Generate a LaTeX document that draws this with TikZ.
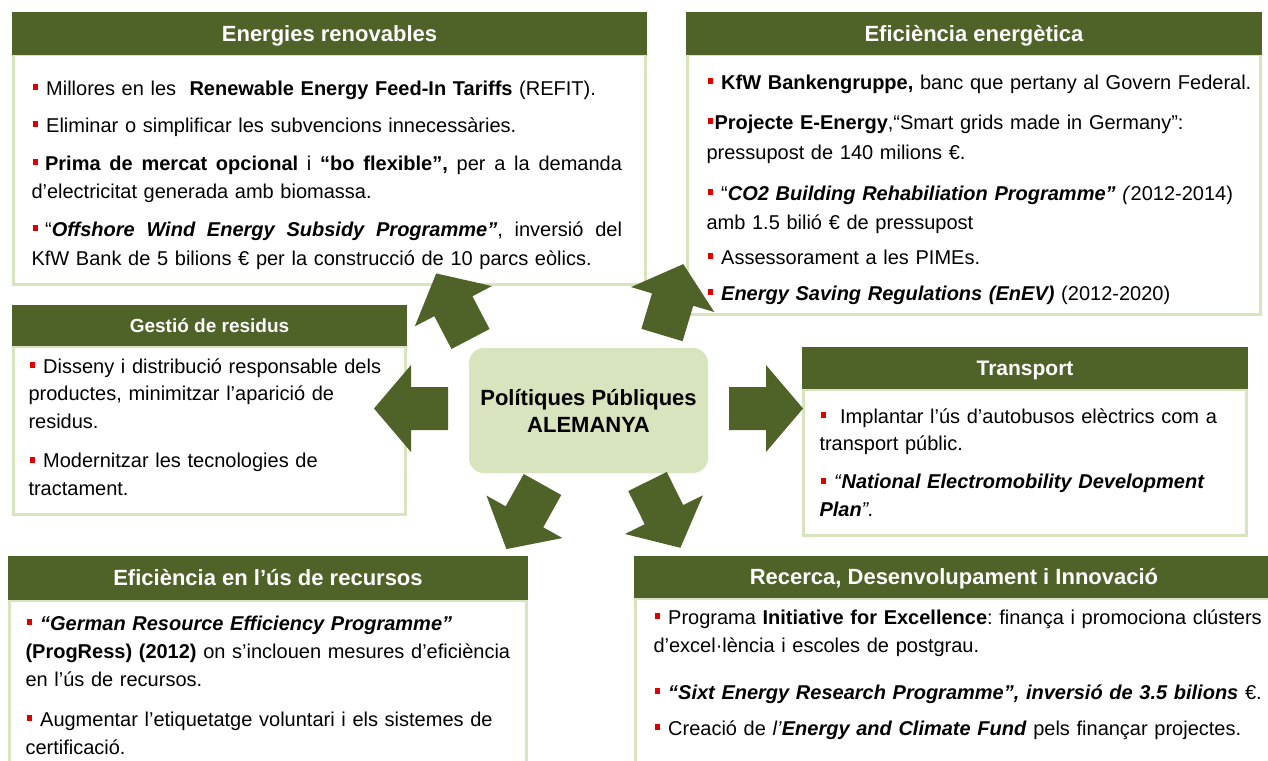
\documentclass[tikz,border=0pt]{standalone}
\usepackage{fontspec}
\setmainfont{Liberation Sans}
\definecolor{hdrgreen}{HTML}{4F6228}
\definecolor{paleg}{HTML}{D7E4BD}
\definecolor{bulred}{HTML}{E00000}
\newcommand\bul{\leavevmode\hbox to 8pt{\hss\textcolor{bulred}{\rule[5pt]{5pt}{6pt}}\hss}}
\newcommand\fst{\leavevmode\rule{0pt}{19pt}}
\newcommand\justline[2]{\makebox[#1][s]{\spaceskip=0.278em plus 1fil\relax #2}}
\tikzset{
  blockarrow/.pic={\fill[hdrgreen] (0,-21.5) -- (37,-21.5) -- (37,-43.5) -- (74,0) -- (37,43.5) -- (37,21.5) -- (0,21.5) -- cycle;},
  hdr/.style={fill=hdrgreen, text=white, font=\bfseries\fontsize{22}{26}\selectfont, inner sep=0, outer sep=0, anchor=north west, text height=15.5pt, text depth=0pt},
  bodybox/.style={draw=paleg, line width=3pt, fill=white, inner sep=0, outer sep=0, anchor=north west},
  txt/.style={inner sep=0, outer sep=0, anchor=north west, align=left, text width=700pt, font=\fontsize{20}{29}\selectfont\frenchspacing},
  hub/.style={fill=paleg, rounded corners=15pt, inner sep=0, minimum width=239, minimum height=125, align=center, font=\bfseries\fontsize{22}{27}\selectfont}
}
\begin{document}
\begin{tikzpicture}[x=1pt,y=-1pt]
\useasboundingbox (0,0) rectangle (1268,760);
\fill[white] (0,0) rectangle (1268,760);

% Box 1
\node[bodybox, minimum width=632, minimum height=229.5] (b1) at (13.5,55) {};
\node[hdr, minimum width=635, minimum height=43] (h1) at (12,12) {Energies renovables};
\node[txt] (t1) at (31.5,76) {\fst\bul{} Millores en les \ \textbf{Renewable Energy Feed-In Tariffs} (REFIT).\\[8pt]
\bul{} Eliminar o simplificar les subvencions innecessàries.\\[9pt]
\justline{590.5pt}{\bul\hspace{5.6pt}\textbf{Prima de mercat opcional} i \textbf{“bo flexible”,} per a la demanda}\\
d’electricitat generada amb biomassa.\\[8pt]
\justline{590.5pt}{\bul\hspace{5.6pt}“\textbf{\textit{Offshore Wind Energy Subsidy Programme”}}, inversió del}\\
KfW Bank de 5 bilions € per la construcció de 10 parcs eòlics.};

% Box 2
\node[bodybox, minimum width=573, minimum height=259.5] (b2) at (687.5,55) {};
\node[hdr, minimum width=576, minimum height=43] (h2) at (686,12) {Eficiència energètica};
\node[txt] (t2) at (706.5,70) {\fst\bul{} \textbf{KfW Bankengruppe,} banc que pertany al Govern Federal.\\[11pt]
\bul\textbf{Projecte E-Energy},“Smart grids made in Germany”:\\[1pt]
pressupost de 140 milions €.\\[12pt]
\bul{} “\textbf{\textit{CO2 Building Rehabiliation Programme”}} \textit{(}2012-2014)\\
amb 1.5 bilió € de pressupost\\[6pt]
\bul{} Assessorament a les PIMEs.\\[7pt]
\bul{} \textbf{\textit{Energy Saving Regulations (EnEV)}} (2012-2020)};

% Box 3
\node[bodybox, minimum width=392, minimum height=168.5] (b3) at (13.5,346) {};
\node[hdr, minimum width=395, minimum height=41, font=\bfseries\fontsize{19}{23}\selectfont, text height=13.5pt] (h3) at (12,305) {Gestió de residus};
\node[txt, font=\fontsize{20}{27.5}\selectfont\frenchspacing] (t3) at (28.5,354) {\fst\bul{} Disseny i distribució responsable dels\\
productes, minimitzar l’aparició de\\
residus.\\[12pt]
\bul{} Modernitzar les tecnologies de\\
tractament.};

% Box 4
\node[bodybox, minimum width=443, minimum height=146.5] (b4) at (803.5,389) {};
\node[hdr, minimum width=446, minimum height=42, font=\bfseries\fontsize{21}{25}\selectfont, text height=15pt] (h4) at (802,347) {Transport};
\node[txt, font=\fontsize{20}{27.5}\selectfont\frenchspacing] (t4) at (819.5,404) {\fst\bul{} \hspace{6pt}Implantar l’ús d’autobusos elèctrics com a\\
transport públic.\\[10.5pt]
\bul{} \textit{“}\textbf{\textit{National Electromobility Development}}\\
\textbf{\textit{Plan}}\textit{”.}};

% Box 5
\node[bodybox, minimum width=517, minimum height=180] (b5) at (9.5,600) {};
\node[hdr, minimum width=520, minimum height=44] (h5) at (8,556) {Eficiència en l’ús de recursos};
\node[txt, font=\fontsize{20}{28}\selectfont\frenchspacing] (t5) at (25.5,611) {\fst\bul{} \textbf{\textit{“German Resource Efficiency Programme”}}\\
\textbf{(ProgRess) (2012)} on s’inclouen mesures d’eficiència\\
en l’ús de recursos.\\[12pt]
\bul{} Augmentar l’etiquetatge voluntari i els sistemes de\\
certificació.};

% Box 6
\node[bodybox, minimum width=640, minimum height=180] (b6) at (635.5,598) {};
\node[hdr, minimum width=640, minimum height=42] (h6) at (634,556) {Recerca, Desenvolupament i Innovació};
\node[txt, font=\fontsize{20}{28}\selectfont\frenchspacing] (t6) at (653.5,605) {\fst\bul{} Programa \textbf{Initiative for Excellence}: finança i promociona clústers\\
d’excel·lència i escoles de postgrau.\\[19pt]
\bul{} \textbf{\textit{“Sixt Energy Research Programme”, inversió de 3.5 bilions}} €.\\[8pt]
\bul{} Creació de \textit{l’}\textbf{\textit{Energy and Climate Fund}} pels finançar projectes.};

% Centre
\node[hub] (hub) at (588.5,410.5) {Polítiques Públiques\\ALEMANYA};

% Block arrows
\pic[rotate=117.6] at (470.5,339) {blockarrow};
\pic[rotate=73.3] at (662,335) {blockarrow};
\pic[rotate=180] at (448,408.5) {blockarrow};
\pic at (729,408.5) {blockarrow};
\pic[rotate=-119.2] at (542.5,484.5) {blockarrow};
\pic[rotate=-63.6] at (647.5,481.5) {blockarrow};
\end{tikzpicture}
\end{document}
